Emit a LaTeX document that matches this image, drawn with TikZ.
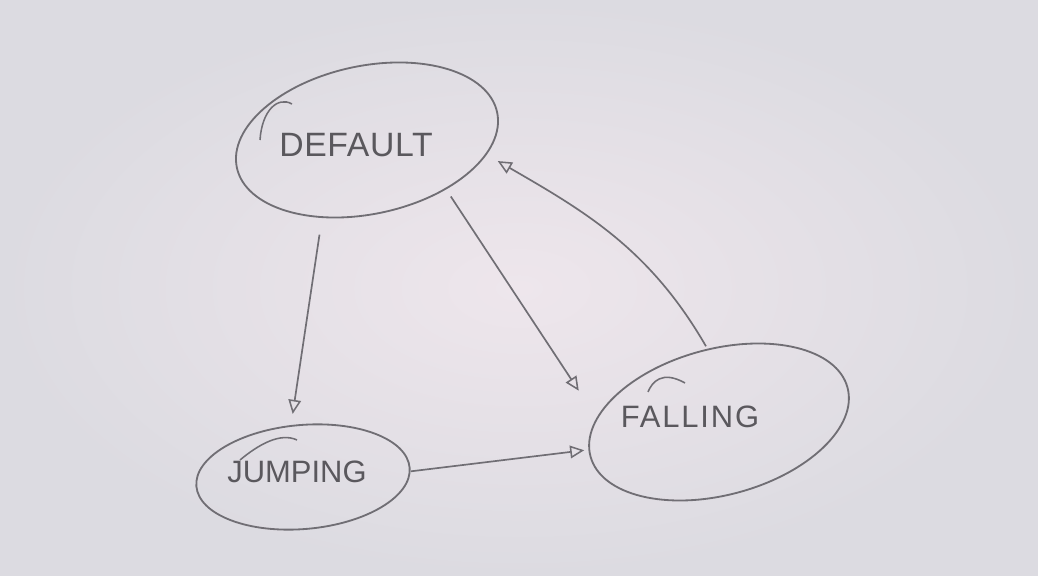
\documentclass[tikz,border=0pt]{standalone}
\usepackage{fontspec}
\setmainfont{Liberation Sans}
\usetikzlibrary{shapes.geometric,arrows.meta}
\definecolor{pencil}{RGB}{112,110,116}
\definecolor{paperin}{RGB}{238,230,236}
\definecolor{paperout}{RGB}{220,219,225}
\tikzset{
  statebox/.style={draw=pencil, line width=1.3pt, ellipse, inner sep=0pt},
  statetext/.style={text=pencil!80!black, inner sep=0pt},
  conn/.style={draw=pencil, line width=1.2pt,
    -{Triangle[open,length=10pt,width=9pt,line width=1.1pt]}},
  stroke/.style={draw=pencil, line width=1.1pt}
}
\begin{document}
\begin{tikzpicture}[x=0.025cm,y=-0.025cm]
\useasboundingbox (0,0) rectangle (1038,576);
\shade[inner color=paperin, outer color=paperout] (0,0) rectangle (1038,576);

% states
\node[statebox, minimum width=6.65cm, minimum height=3.7cm, rotate=12] (dflt) at (367,140) {};
\node[statebox, minimum width=5.35cm, minimum height=2.6cm, rotate=5] (jump) at (303,477) {};
\node[statebox, minimum width=6.65cm, minimum height=3.65cm, rotate=15] (fall) at (719,422) {};

\node[statetext, font=\fontsize{24}{24}\selectfont\addfontfeatures{LetterSpace=2}] (tdflt) at (356,145) {DEFAULT};
\node[statetext, font=\fontsize{22}{22}\selectfont] (tjump) at (297,472) {JUMPING};
\node[statetext, font=\fontsize{22}{22}\selectfont\addfontfeatures{LetterSpace=6}] (tfall) at (690,417) {FALLING};

% pencil start strokes
\path[stroke] (260,140) .. controls (262,110) and (278,96) .. (292,104);
\path[stroke] (240,460) .. controls (258,445) and (280,432) .. (297,440);
\path[stroke] (648,392) .. controls (652,382) and (662,370) .. (685,383);

% connectors
\path[conn, shorten <=12pt, shorten >=8pt] (dflt.228) -- (jump.98);
\path[conn, shorten <=6pt, shorten >=23pt] (dflt.316) -- (fall.163);
\path[conn, shorten >=3pt] (jump.358) -- (fall.177);
\path[conn, shorten <=2pt, shorten >=9pt] (fall.84) to[out=120, in=-30] (dflt.341);
\end{tikzpicture}
\end{document}
